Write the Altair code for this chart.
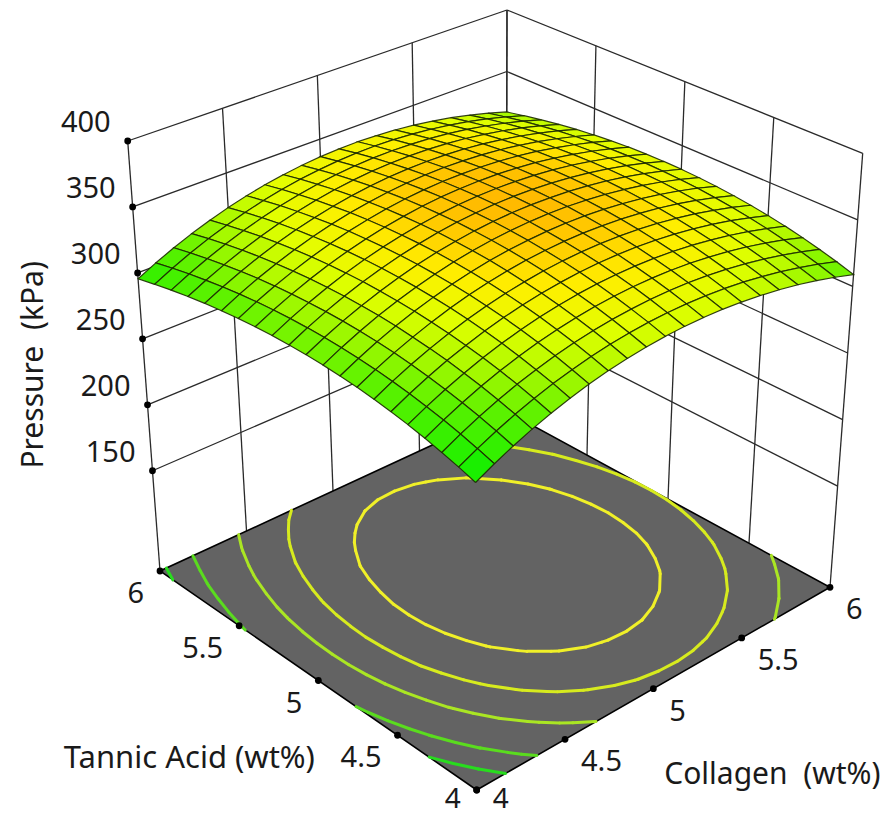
import altair as alt, pandas as pd

# ---- values ----
CVALS = [4.0,4.1,4.2,4.3,4.4,4.5,4.6,4.7,4.8,4.9,5.0,5.1,5.2,5.3,5.4,5.5,5.6,5.7,5.8,5.9,6.0]
TVALS = [4.0,4.1,4.2,4.3,4.4,4.5,4.6,4.7,4.8,4.9,5.0,5.1,5.2,5.3,5.4,5.5,5.6,5.7,5.8,5.9,6.0]
# Pressure (kPa): one row per Tannic Acid value, one column per Collagen value
Z = [
[287.3,294.1,300.3,305.9,310.8,315.2,319.0,322.2,324.8,326.7,328.1,328.9,329.1,328.7,327.6,326.0,323.8,321.0,317.6,313.5,308.9],
[291.3,298.0,304.2,309.8,314.8,319.2,322.9,326.1,328.7,330.7,332.1,332.8,333.0,332.6,331.6,330.0,327.7,324.9,321.5,317.5,312.9],
[294.8,301.6,307.8,313.4,318.4,322.7,326.5,329.7,332.3,334.3,335.6,336.4,336.6,336.2,335.2,333.5,331.3,328.5,325.1,321.1,316.4],
[298.0,304.8,311.0,316.6,321.6,325.9,329.7,332.9,335.5,337.5,338.8,339.6,339.8,339.4,338.4,336.7,334.5,331.7,328.3,324.3,319.6],
[300.9,307.6,313.8,319.4,324.4,328.8,332.5,335.7,338.3,340.3,341.7,342.4,342.6,342.2,341.2,339.6,337.3,334.5,331.1,327.1,322.5],
[303.3,310.1,316.3,321.9,326.8,331.2,335.0,338.2,340.8,342.7,344.1,344.9,345.1,344.7,343.6,342.0,339.8,337.0,333.6,329.5,324.9],
[305.4,312.2,318.4,323.9,328.9,333.3,337.1,340.3,342.8,344.8,346.2,347.0,347.2,346.7,345.7,344.1,341.9,339.1,335.6,331.6,327.0],
[307.1,313.9,320.1,325.6,330.6,335.0,338.8,342.0,344.5,346.5,347.9,348.7,348.9,348.4,347.4,345.8,343.6,340.8,337.3,333.3,328.7],
[308.4,315.2,321.4,327.0,332.0,336.3,340.1,343.3,345.9,347.9,349.2,350.0,350.2,349.8,348.8,347.1,344.9,342.1,338.7,334.7,330.0],
[309.4,316.2,322.4,328.0,332.9,337.3,341.1,344.3,346.9,348.8,350.2,351.0,351.2,350.8,349.7,348.1,345.9,343.1,339.7,335.6,331.0],
[310.0,316.8,323.0,328.5,333.5,337.9,341.7,344.9,347.4,349.4,350.8,351.6,351.8,351.3,350.3,348.7,346.5,343.7,340.2,336.2,331.6],
[310.2,317.0,323.2,328.8,333.8,338.1,341.9,345.1,347.7,349.7,351.0,351.8,352.0,351.6,350.6,348.9,346.7,343.9,340.5,336.5,331.8],
[310.1,316.9,323.0,328.6,333.6,338.0,341.8,344.9,347.5,349.5,350.9,351.7,351.8,351.4,350.4,348.8,346.6,343.7,340.3,336.3,331.7],
[309.6,316.3,322.5,328.1,333.1,337.5,341.2,344.4,347.0,349.0,350.4,351.1,351.3,350.9,349.9,348.3,346.0,343.2,339.8,335.8,331.2],
[308.7,315.5,321.6,327.2,332.2,336.6,340.4,343.5,346.1,348.1,349.5,350.3,350.4,350.0,349.0,347.4,345.2,342.3,338.9,334.9,330.3],
[307.4,314.2,320.4,325.9,330.9,335.3,339.1,342.3,344.8,346.8,348.2,349.0,349.2,348.7,347.7,346.1,343.9,341.1,337.6,333.6,329.0],
[305.8,312.5,318.7,324.3,329.3,333.7,337.4,340.6,343.2,345.2,346.6,347.3,347.5,347.1,346.1,344.5,342.2,339.4,336.0,332.0,327.4],
[303.8,310.5,316.7,322.3,327.3,331.7,335.4,338.6,341.2,343.2,344.6,345.3,345.5,345.1,344.1,342.5,340.2,337.4,334.0,330.0,325.4],
[301.4,308.2,314.3,319.9,324.9,329.3,333.1,336.2,338.8,340.8,342.2,343.0,343.1,342.7,341.7,340.1,337.9,335.0,331.6,327.6,323.0],
[298.6,305.4,311.6,317.2,322.1,326.5,330.3,333.5,336.1,338.0,339.4,340.2,340.4,340.0,338.9,337.3,335.1,332.3,328.9,324.8,320.2],
[295.5,302.3,308.5,314.0,319.0,323.4,327.2,330.4,332.9,334.9,336.3,337.1,337.3,336.8,335.8,334.2,332.0,329.2,325.7,321.7,317.1],
]
Z0 = 74.0
ZTICKS = [400, 350, 300, 250, 200, 150]
STEPS = [4, 4.5, 5, 5.5, 6]
LEVELS = [342.2, 331.9, 321.4, 307.9, 298.0]
LEVEL_COLORS = ["#f0f028", "#d7eb1e", "#aae623", "#5adc1e", "#28dc1e"]
STOPS = [(286,(0,238,0)),(310,(95,242,0)),(320,(160,248,0)),(332,(225,255,0)),(342,(255,238,0)),(352,(255,185,0))]

# ---- the picture's perspective: where the box corners fall ----
FLOOR = {"F":(476.7,790),"L":(160,571),"R":(830,587.3),"B":(506,411)}
TOP   = {"F":(475,320),"L":(127.7,141),"R":(862.7,153.3),"B":(507,10)}

def bil(D,u,v):
    return [(1-u)*(1-v)*D["F"][k]+u*(1-v)*D["R"][k]+(1-u)*v*D["L"][k]+u*v*D["B"][k] for k in (0,1)]
def P(c,t,z):
    u,v=(c-4)/2,(t-4)/2; w=(z-Z0)/(400-Z0)
    a,b=bil(FLOOR,u,v),bil(TOP,u,v)
    return (a[0]*(1-w)+b[0]*w, a[1]*(1-w)+b[1]*w)
def col(z):
    if z<=STOPS[0][0]: r=STOPS[0][1]
    elif z>=STOPS[-1][0]: r=STOPS[-1][1]
    else:
        for (a,ca),(b,cb) in zip(STOPS,STOPS[1:]):
            if a<=z<=b:
                f=(z-a)/(b-a); r=tuple(ca[i]+(cb[i]-ca[i])*f for i in range(3)); break
    return "#%02x%02x%02x"%tuple(int(round(x)) for x in r)

X=alt.X("x:Q",scale=alt.Scale(domain=[8,883],nice=False,zero=False),axis=None)
Y=alt.Y("y:Q",scale=alt.Scale(domain=[814,8],nice=False,zero=False),axis=None)

walls=[]
def addline(a,b,name):
    for k,p in enumerate((a,b)):
        x,y=P(*p); walls.append(dict(x=x,y=y,id=name,k=k))
for z in ZTICKS:
    addline((4,6,z),(6,6,z),f"l{z}"); addline((6,4,z),(6,6,z),f"r{z}")
for s in STEPS:
    addline((s,6,Z0),(s,6,400),f"vl{s}"); addline((6,s,Z0),(6,s,400),f"vr{s}")
wall=alt.Chart(pd.DataFrame(walls)).mark_line(color="#2a2a2a",strokeWidth=1.3).encode(X,Y,detail="id:N",order="k:Q")

floorpts=[P(c,t,Z0) for c,t in [(4,4),(6,4),(6,6),(4,6),(4,4)]]
floordf=pd.DataFrame([dict(x=p[0],y=p[1],k=i,id="f") for i,p in enumerate(floorpts)])
floor=alt.Chart(floordf).mark_line(color="#000000",fill="#636363",strokeWidth=1.6).encode(X,Y,detail="id:N",order="k:Q")

segs=[]
n=len(CVALS)
for li,L in enumerate(LEVELS):
    for j in range(n-1):
        for i in range(n-1):
            cs=[(CVALS[i],TVALS[j],Z[j][i]),(CVALS[i+1],TVALS[j],Z[j][i+1]),(CVALS[i+1],TVALS[j+1],Z[j+1][i+1]),(CVALS[i],TVALS[j+1],Z[j+1][i])]
            pts=[]
            for a,b in zip(cs,cs[1:]+cs[:1]):
                if (a[2]>=L)!=(b[2]>=L):
                    f=(L-a[2])/(b[2]-a[2]); pts.append((a[0]+f*(b[0]-a[0]),a[1]+f*(b[1]-a[1])))
            if len(pts)>=2:
                p,q=P(pts[0][0],pts[0][1],Z0),P(pts[1][0],pts[1][1],Z0)
                segs.append(dict(x=p[0],y=p[1],x2=q[0],y2=q[1],col=LEVEL_COLORS[li]))
cont=alt.Chart(pd.DataFrame(segs)).mark_rule(strokeWidth=3,strokeCap="round").encode(X,Y,x2="x2:Q",y2="y2:Q",color=alt.Color("col:N",scale=None))

# surface cells, back to front
cells=[]
for s in range(2*(n-2),-1,-1):
    for j in range(n-1):
        i=s-j
        if 0<=i<n-1:
            zm=(Z[j][i]+Z[j][i+1]+Z[j+1][i]+Z[j+1][i+1])/4
            for k,(a,b) in enumerate([(i,j),(i+1,j),(i+1,j+1),(i,j+1),(i,j)]):
                x,y=P(CVALS[a],TVALS[b],Z[b][a])
                cells.append(dict(x=x,y=y,k=k,id=f"{i}_{j}",fc=col(zm)))
surf=alt.Chart(pd.DataFrame(cells)).mark_line(stroke="#1c2b00",strokeWidth=1.2,strokeOpacity=.9).encode(X,Y,detail="id:N",order="k:Q",fill=alt.Fill("fc:N",scale=None))

dots=[dict(zip("xy",P(4,6,z))) for z in ZTICKS]+[dict(zip("xy",P(4,s,Z0))) for s in STEPS]+[dict(zip("xy",P(s,4,Z0))) for s in STEPS]
dot=alt.Chart(pd.DataFrame(dots)).mark_circle(color="#000",size=46,opacity=1).encode(X,Y)

FONT="Noto Sans"; FS=29; TC="#1a1a1a"
def lab(rows,fs=FS,**kw):
    return alt.Chart(pd.DataFrame(rows)).mark_text(font=FONT,fontSize=fs,color=TC,baseline="middle",**kw).encode(X,Y,text="s:N")
def r(p,s): return dict(x=p[0],y=p[1],s=s)
zl=lab([r(P(4,6,z),str(z)) for z in ZTICKS],align="right",dx=-17,dy=-18)
fmt=lambda s:f"{s:g}"
tl=lab([r(P(4,s,Z0),fmt(s)) for s in STEPS[1:]],align="right",dx=-16,dy=23)
cl=lab([r(P(s,4,Z0),fmt(s)) for s in STEPS[1:]],align="left",dx=16,dy=23)
t4=lab([r(P(4,4,Z0),"4")],fs=28,align="right",dx=-16,dy=10)
c4=lab([r(P(4,4,Z0),"4")],fs=28,align="left",dx=16,dy=10)
t1=lab([r(P(4,5,Z0),"Tannic Acid (wt%)")],fs=31,align="center",dx=-129,dy=78)
t2=lab([r(P(5,4,Z0),"Collagen\u00a0\u00a0(wt%)")],fs=30,align="center",dx=119,dy=86)
t3=lab([r(P(4,6,250),"Pressure\u00a0\u00a0(kPa)")],fs=30,align="center",angle=270,dx=-26,dy=-109)

chart=alt.layer(wall,floor,cont,surf,dot,zl,tl,cl,t4,c4,t1,t2,t3).properties(width=875,height=806,padding=0,autosize=alt.AutoSizeParams(type="none")).configure_view(stroke=None)
chart.save("out.html",embed_options={"renderer":"svg","actions":False})
